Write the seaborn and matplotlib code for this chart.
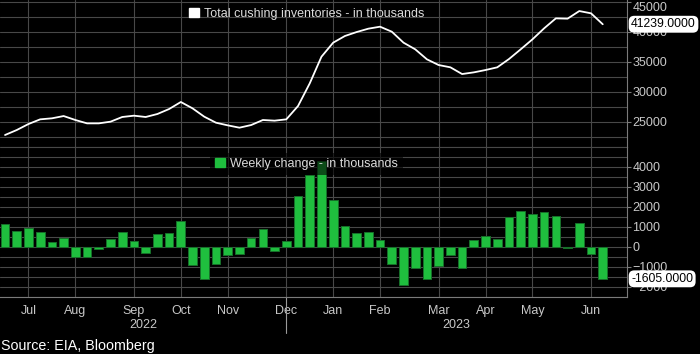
import numpy as np
import pandas as pd
import seaborn as sns
import matplotlib.pyplot as plt
import matplotlib.transforms as mtransforms
from matplotlib.patches import Patch

# weekly Cushing stocks (thousand barrels)
inventory = [22780, 23610, 24610, 25390, 25560, 25940, 25280, 24720, 24720, 25000,
             25780, 26000, 25780, 26280, 27110, 28280, 27220, 25830, 24830, 24390,
             24000, 24440, 25280, 25170, 25390, 27610, 31390, 35830, 38170, 39280,
             39940, 40500, 40830, 40000, 38170, 37060, 35390, 34440, 34060, 32940,
             33220, 33610, 34060, 35440, 37060, 38720, 40560, 42220, 42170, 43440,
             43060, 41239]
weekly_change = [1150, 780, 930, 750, 220, 430, -500, -500, -130, 370,
                 720, 280, -300, 620, 680, 1300, -900, -1600, -880, -400,
                 -370, 430, 870, -200, 270, 2530, 3600, 4300, 2320, 1050,
                 670, 730, 330, -870, -1900, -1050, -1620, -950, -400, -1070,
                 330, 550, 400, 1470, 1770, 1630, 1720, 1550, -80, 1200,
                 -380, -1605]
month_labels = ['Jul', 'Aug', 'Sep', 'Oct', 'Nov', 'Dec', 'Jan', 'Feb', 'Mar', 'Apr', 'May', 'Jun']
month_weeks = [2, 6, 11, 15, 19, 24, 28, 32, 37, 41, 45, 50]
year_labels = ['2022', '2023']

df = pd.DataFrame({'week': np.arange(len(inventory)), 'inventory': inventory, 'change': weekly_change})

sns.set_style('dark')
plt.rcParams['font.family'] = ['Liberation Sans', 'DejaVu Sans']

green = '#1fbe3e'
grid_c = '#484848'
spine_c = '#7a7a7a'
text_c = '#c8c8c8'
xlim = (-0.43, 53.07)

fig = plt.figure(figsize=(7, 3.54), dpi=100, facecolor='black')
ax1 = fig.add_axes([0, 207 / 354, 627 / 700, 147 / 354])
ax2 = fig.add_axes([0, 57 / 354, 627 / 700, 150 / 354])

sns.lineplot(data=df, x='week', y='inventory', color='white', lw=1.3, ax=ax1, zorder=3)
sns.barplot(data=df, x='week', y='change', color=green, saturation=1, width=0.74,
            edgecolor='#17702a', linewidth=0.7, ax=ax2, zorder=3)


def style_axis(ax, ylim, major, minor):
  ax.set_facecolor('black')
  ax.set_xlim(xlim)
  ax.set_ylim(ylim)
  ax.yaxis.tick_right()
  ax.set_yticks(major)
  ax.set_yticks(minor, minor=True)
  ax.set_xticks(month_weeks)
  ax.tick_params(axis='y', which='major', colors=text_c, color=spine_c, length=3, width=0.8,
                 pad=1, labelsize=9)
  ax.tick_params(axis='y', which='minor', length=0)
  for side in ['left', 'top']:
    ax.spines[side].set_visible(False)
  for side in ['right', 'bottom']:
    ax.spines[side].set_visible(True)
    ax.spines[side].set_color(spine_c)
    ax.spines[side].set_linewidth(0.8)
  ax.set_xlabel('')
  ax.set_ylabel('')
  # grid drawn as plain lines so nothing in the styles can switch it off
  for y in minor:
    ax.axhline(y, color=grid_c, lw=0.8, zorder=1)
  for x in month_weeks:
    ax.axvline(x, color=grid_c, lw=0.8, zorder=1)


style_axis(ax1, (20780, 45280), np.arange(25000, 45001, 5000), np.arange(22500, 45001, 2500))
style_axis(ax2, (-2515, 4985), np.arange(-2000, 4001, 1000), np.arange(-2500, 5001, 500))
ax1.tick_params(axis='x', labelbottom=False, length=0)
ax1.get_yticklabels()[-1].set_verticalalignment('top')
ax2.set_xticklabels(month_labels)
ax2.tick_params(axis='x', colors=text_c, length=0, pad=6, labelsize=9)

# year separator and year labels
dec = month_weeks[month_labels.index('Dec')]
trans = mtransforms.blended_transform_factory(ax2.transData, ax2.transAxes)
ax2.plot([dec, dec], [0, -0.24], transform=trans, color='#9a9a9a', lw=0.8, clip_on=False)
ax2.text((xlim[0] + dec) / 2, -0.19, year_labels[0], transform=trans, ha='center', va='center',
         color=text_c, fontsize=9)
ax2.text((dec + xlim[1]) / 2, -0.19, year_labels[1], transform=trans, ha='center', va='center',
         color=text_c, fontsize=9)

# last value tags
box = dict(boxstyle='round,pad=0.2,rounding_size=0.45', fc='white', ec='none')
ax1.annotate(f'{inventory[-1]:.4f}', xy=(1, inventory[-1]), xycoords=('axes fraction', 'data'),
             xytext=(3, 0), textcoords='offset points', ha='left', va='center', fontsize=8.8,
             color='black', bbox=box, annotation_clip=False, zorder=5)
ax2.annotate(f'{weekly_change[-1]:.4f}', xy=(1, weekly_change[-1]), xycoords=('axes fraction', 'data'),
             xytext=(3, 0), textcoords='offset points', ha='left', va='center', fontsize=8.8,
             color='black', bbox=box, annotation_clip=False, zorder=5)

# legends
leg1 = ax1.legend([Patch(facecolor='white', edgecolor='white')],
                  ['Total cushing inventories - in thousands'],
                  loc='center left', bbox_to_anchor=(0.302, 0.905), frameon=False, fontsize=9,
                  handlelength=0.8, handleheight=0.75, handletextpad=0.4, borderpad=0,
                  borderaxespad=0, labelcolor='#dddddd')
leg2 = ax2.legend([Patch(facecolor=green, edgecolor=green)],
                  ['Weekly change - in thousands'],
                  loc='center left', bbox_to_anchor=(0.335, 0.887), frameon=True, fontsize=9,
                  handlelength=0.8, handleheight=0.75, handletextpad=0.4, borderpad=0.4,
                  borderaxespad=0, labelcolor='#dddddd', facecolor='black', framealpha=0.6,
                  edgecolor='none', fancybox=False)

fig.text(0.002, 1 - 346 / 354, 'Source: EIA, Bloomberg', color='white', fontsize=10.3,
         ha='left', va='center')

fig.savefig('out.png', dpi=100, facecolor='black')
